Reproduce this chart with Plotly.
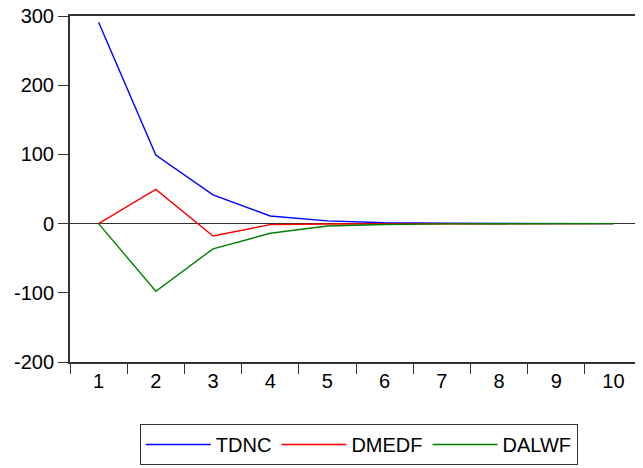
import plotly.graph_objects as go

periods = ["1", "2", "3", "4", "5", "6", "7", "8", "9", "10"]
tdnc = [291, 99, 41.5, 11, 4, 1.2, 0.4, 0.1, 0.05, 0.02]
dmedf = [0, 49.5, -17.8, -1.5, -0.6, -0.3, -0.1, -0.05, -0.02, -0.01]
dalwf = [0, -97.7, -36.5, -14, -3.5, -1.2, -0.4, -0.15, -0.05, -0.02]
yticks = [-200, -100, 0, 100, 200, 300]
ytick_labels = ["-200", "-100", "0", "100", "200", "300"]

series = [("TDNC", tdnc, "#0000FF"), ("DMEDF", dmedf, "#FF0000"), ("DALWF", dalwf, "#008000")]

fig = go.Figure()
for name, vals, col in series:
    fig.add_trace(go.Scatter(x=periods, y=vals, mode="lines", name=name,
                             line=dict(color=col, width=1.4)))

tickfont = dict(family="Liberation Sans, Arial, sans-serif", size=20, color="black")
legfont = dict(family="Liberation Sans, Arial, sans-serif", size=20, color="black")
# page body has an 8px default margin, so the figure is 635x460
fig.update_layout(
    width=635, height=460,
    margin=dict(l=62, r=1, t=8, b=106, autoexpand=False),
    paper_bgcolor="white", plot_bgcolor="white",
    font=tickfont,
    showlegend=True,
    legend=dict(orientation="h", x=0.505, xanchor="center",
                yref="container", y=1 - 416 / 460, yanchor="top",
                bordercolor="#333", borderwidth=1, font=legfont, itemwidth=65,
                tracegroupgap=0),
    xaxis=dict(type="category", range=[-0.5, 9.5], tickson="boundaries",
               ticks="outside", ticklen=10, tickcolor="#333", tickfont=tickfont,
               showline=True, linecolor="#333", linewidth=2, automargin=False,
               mirror=True, showgrid=False, zeroline=False),
    yaxis=dict(range=[-200, 300], tickvals=yticks, ticktext=ytick_labels,
               ticks="outside", ticklen=10, tickcolor="#333", tickfont=tickfont,
               showline=True, linecolor="#333", linewidth=2, automargin=False,
               ticklabeloverflow="allow",
               showgrid=False, zeroline=True, zerolinecolor="#333", zerolinewidth=1),
)
fig.write_html("out.html")
